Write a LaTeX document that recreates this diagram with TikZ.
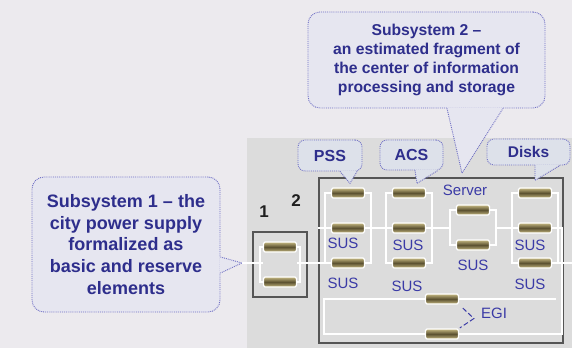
\documentclass[tikz,border=0pt]{standalone}
\usepackage{fontspec}
\setmainfont{Liberation Sans}
\usetikzlibrary{positioning, fit}

\definecolor{pagebg}{HTML}{ECEAEE}
\definecolor{panelgray}{HTML}{DCDCDC}
\definecolor{framegray}{HTML}{555555}
\definecolor{barlight}{HTML}{C6B982}
\definecolor{bardark}{HTML}{5A5030}
\definecolor{lblblue}{HTML}{3A3AA6}
\definecolor{calltext}{HTML}{2E2E8C}
\definecolor{dotblue}{HTML}{6E6EC4}
\definecolor{bigfill}{HTML}{E6E6F0}
\definecolor{smallfill}{HTML}{DDE1EA}

\begin{document}
\begin{tikzpicture}[
    x=1pt, y=1pt,
    node distance=35pt,
    on grid,
    bar/.style={rectangle, rounded corners=1.5pt, minimum width=33pt, minimum height=10pt, inner sep=0pt,
                draw=white, line width=1.2pt, top color=barlight, bottom color=barlight, middle color=bardark},
    wire/.style={draw=white, line width=1.3pt},
    frame/.style={draw=framegray, line width=1.8pt},
    lbl/.style={text=lblblue, inner sep=0pt, font=\fontsize{15}{15}\selectfont},
    num/.style={text=black!88, inner sep=0pt, font=\fontsize{17}{17}\selectfont\bfseries},
    calledge/.style={draw=dotblue, densely dotted, line width=0.9pt},
    callbig/.style={calledge, fill=bigfill, rounded corners=12pt, align=center, text=calltext, inner sep=0pt},
    callsmall/.style={calledge, fill=smallfill, rounded corners=7pt, align=center, text=calltext, inner sep=0pt,
                      font=\fontsize{16}{16}\selectfont\bfseries}
]

   % Background and panel
   \useasboundingbox[fill=pagebg] (0,0) rectangle (572,348);
   \fill[panelgray] (247,0) rectangle (572,210);

   % Elements
   \node[bar] (b1a) at (280,101) {};
   \node[bar] (b1b) [below=of b1a] {};
   \node[bar] (p1) at (348,155) {};
   \node[bar] (p2) [below=of p1] {};
   \node[bar] (p3) [below=of p2] {};
   \node[bar] (a1) [right=61pt of p1] {};
   \node[bar] (a2) [below=of a1] {};
   \node[bar] (a3) [below=of a2] {};
   \node[bar] (s1) [below right=17pt and 64pt of a1] {};
   \node[bar] (s2) [below=of s1] {};
   \node[bar] (d1) [right=126pt of a1] {};
   \node[bar] (d2) [below=of d1] {};
   \node[bar] (d3) [below=of d2] {};
   \node[bar] (e1) at (442,49) {};
   \node[bar] (e2) [below=of e1] {};

   % Subsystem frames
   \node[frame, fit=(b1a)(b1b), inner xsep=10pt, inner ysep=9pt] (box1) {};
   \node[frame, minimum width=244pt, minimum height=165pt] (box2) at (441,87.5) {};
   \node[num] (num1) [above=14pt of box1.north, xshift=-16pt] {1};
   \node[num] (num2) [below left=17pt and 17pt of box2.north west] {2};

   \coordinate (tip1) at ([xshift=-10pt]box1.west |- p3);
   \coordinate (tip2) at ([xshift=21pt,yshift=4pt]box2.north);
   \coordinate (psstip) at ([xshift=2pt,yshift=4pt]p1.north);
   \coordinate (acstip) at ([xshift=8pt,yshift=4pt]a1.north);
   \coordinate (disktip) at ([yshift=7pt]d1.north);

   % Wiring
   \draw[wire] (tip1) -- (tip1 -| b1a.west);
   \draw[wire] (b1a.west) -- ++(-3,0) |- (b1b.west);
   \draw[wire] (b1a.east) -- ++(3,0) |- (b1b.east);
   \draw[wire] (tip1 -| b1a.east) -- (p3.west);
   \draw[wire] (p1.west) -- ++(-6,0) |- (p3.west);
   \draw[wire] (p1.east) -- ++(6,0) |- (p3.east);
   \draw[wire] (a1.west) -- ++(-6,0) |- (a3.west);
   \draw[wire] (a1.east) -- ++(6,0) |- (a3.east);
   \draw[wire] (s1.west) -- ++(-6,0) |- (s2.west);
   \draw[wire] (s1.east) -- ++(6,0) |- (s2.east);
   \draw[wire] (d1.west) -- ++(-6,0) |- (d3.west);
   \draw[wire] (d1.east) -- ++(6,0) |- (d3.east);
   \draw[wire] (p2.west -| box2.west) -- (p2.west);
   \draw[wire] (p2.east) -- (a2.west);
   \draw[wire] (a2.east) -- ([xshift=-6pt]s1.west |- a2.east);
   \draw[wire] ([xshift=6pt]s1.east |- d2.west) -- (d2.west);
   \draw[wire] (d2.east) -- ++(10,0) |- (e2.east);
   \draw[wire] (e2.west) -- ++(-101,0) |- (e1.west);
   \draw[wire] (e1.east) -- ++(97,0);
   \draw[wire] (d3.east) -- ++(22,0);

   % Labels
   \node[lbl] (susp2) [below=15pt of p2, xshift=-5pt] {SUS};
   \node[lbl] (susp3) [below=20pt of p3, xshift=-5pt] {SUS};
   \node[lbl] (susa2) [below=17pt of a2, xshift=-1pt] {SUS};
   \node[lbl] (susa3) [below=23pt of a3, xshift=-2pt] {SUS};
   \node[lbl] (suss2) [below=20pt of s2] {SUS};
   \node[lbl] (susd2) [below=17pt of d2, xshift=-5pt] {SUS};
   \node[lbl] (susd3) [below=21pt of d3, xshift=-5pt] {SUS};
   \node[lbl] (srv) [above=20pt of s1, xshift=-8pt] {Server};
   \node[lbl] (egi) [below right=14pt and 52pt of e1] {EGI};
   \draw[draw=lblblue, line width=1pt, dash pattern=on 5pt off 2.5pt, shorten <=5pt, shorten >=1pt]
      (e1.south east) -- ([xshift=-7pt]egi.south west) -- (e2.north east);

   % Callouts
   \node[callbig, minimum width=188pt, minimum height=135pt, font=\fontsize{18}{21.75}\selectfont\bfseries]
      (sub1) at (126,103.5) {Subsystem 1 – the\\city power supply\\formalized as\\basic and reserve\\elements};
   \fill[bigfill] ([xshift=-1pt,yshift=-12.5pt]sub1.east) -- (tip1) -- ([xshift=-1pt,yshift=-28.5pt]sub1.east) -- cycle;
   \draw[calledge] ([yshift=-12.5pt]sub1.east) -- (tip1) -- ([yshift=-28.5pt]sub1.east);

   \node[callbig, minimum width=237pt, minimum height=96pt, font=\fontsize{15.7}{19.3}\selectfont\bfseries]
      (sub2) at (426.5,288) {Subsystem 2 –\\an estimated fragment of\\the center of information\\processing and storage};
   \fill[bigfill] ([xshift=20.5pt,yshift=1pt]sub2.south) -- (tip2) -- ([xshift=76.5pt,yshift=1pt]sub2.south) -- cycle;
   \draw[calledge] ([xshift=20.5pt]sub2.south) -- (tip2) -- ([xshift=76.5pt]sub2.south);

   \node[callsmall, minimum width=64pt, minimum height=31pt] (pss) at (330,192.5) {PSS};
   \fill[smallfill] ([xshift=10pt,yshift=1pt]pss.south) -- (psstip) -- ([xshift=27pt,yshift=1pt]pss.south) -- cycle;
   \draw[calledge] ([xshift=10pt]pss.south) -- (psstip) -- ([xshift=27pt]pss.south);

   \node[callsmall, minimum width=63pt, minimum height=30pt] (acs) at (411.5,193) {ACS};
   \fill[smallfill] ([xshift=3.5pt,yshift=1pt]acs.south) -- (acstip) -- ([xshift=26.5pt,yshift=1pt]acs.south) -- cycle;
   \draw[calledge] ([xshift=3.5pt]acs.south) -- (acstip) -- ([xshift=26.5pt]acs.south);

   \node[callsmall, minimum width=83pt, minimum height=26pt, font=\fontsize{15.5}{15.5}\selectfont\bfseries]
      (disks) at (528.5,196) {Disks};
   \fill[smallfill] ([xshift=6.5pt,yshift=1pt]disks.south) -- (disktip) -- ([xshift=31.5pt,yshift=1pt]disks.south) -- cycle;
   \draw[calledge] ([xshift=6.5pt]disks.south) -- (disktip) -- ([xshift=31.5pt]disks.south);
\end{tikzpicture}
\end{document}
